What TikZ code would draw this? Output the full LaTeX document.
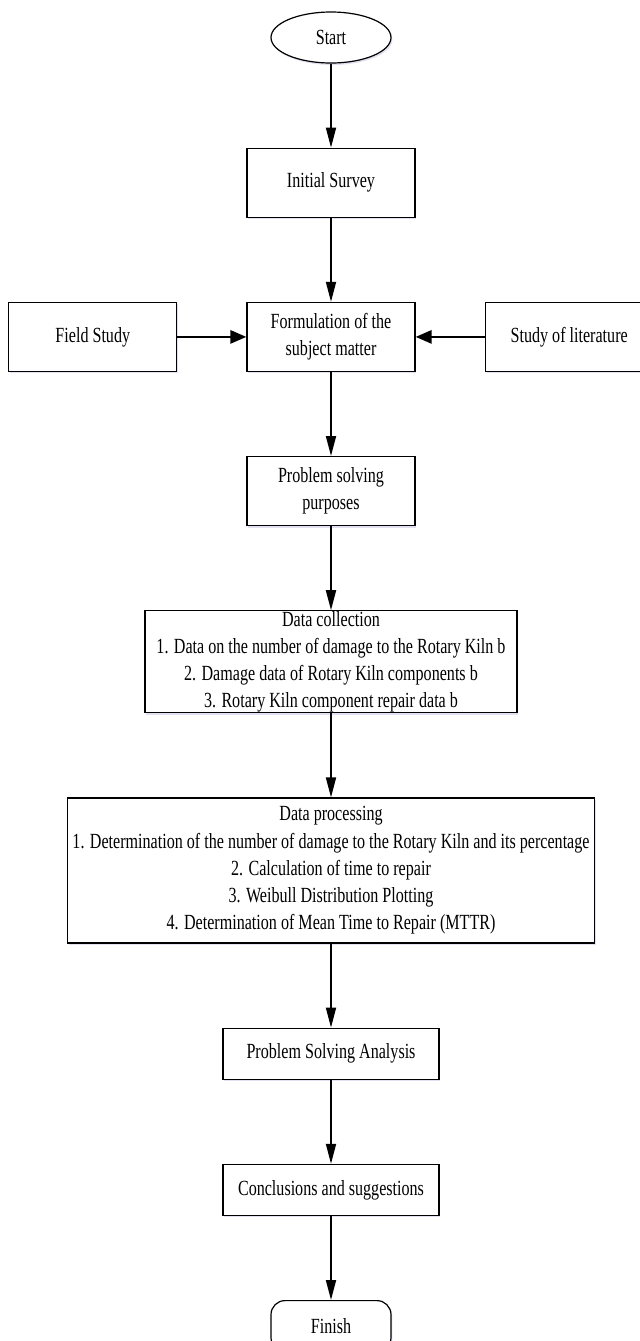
\documentclass[tikz,border=0pt]{standalone}
\usepackage{fontspec}
\setmainfont{Liberation Serif}[FakeStretch=0.745]
\usetikzlibrary{arrows.meta,positioning,shapes.geometric,shadows}

\begin{document}
\begin{tikzpicture}[
    node distance=42pt and 34.5pt,
    every node/.style={font=\fontsize{10.8pt}{13.6pt}\selectfont},
    box/.style={draw, line width=0.6pt, fill=white, align=center, inner sep=0pt, minimum width=84pt, minimum height=34.5pt,
        drop shadow={shadow xshift=0.7pt, shadow yshift=-1pt, fill=blue!35!gray!50, opacity=0.35}},
    terminal/.style={box, minimum width=60pt, minimum height=25.5pt},
    flow/.style={-{Triangle[length=10pt, width=5pt]}, line width=0.9pt},
    side/.style={-{Triangle[length=8pt, width=6.5pt]}, line width=1.4pt}
]
\useasboundingbox (0,0) rectangle (319.5pt,-670.5pt);
\node[terminal, ellipse] (start) at (165.5pt,-18.75pt) {Start};
\node[box, below=of start] (survey) {Initial Survey};
\node[box, below=of survey] (formul) {Formulation of the\\subject matter};
\node[box, left=of formul] (field) {Field Study};
\node[box, right=of formul] (lit) {Study of literature};
\node[box, below=of formul] (purpose) {Problem solving\\purposes};
\node[box, below=of purpose, minimum width=186pt, minimum height=51pt] (collect) {Data collection\\1. Data on the number of damage to the Rotary Kiln b\\2. Damage data of Rotary Kiln components b\\3. Rotary Kiln component repair data b};
\node[box, below=of collect, minimum width=263.5pt, minimum height=72.5pt] (process) {Data processing\\1. Determination of the number of damage to the Rotary Kiln and its percentage\\2. Calculation of time to repair\\3. Weibull Distribution Plotting\\4. Determination of Mean Time to Repair (MTTR)};
\node[box, below=of process, minimum width=108pt, minimum height=25.5pt] (analysis) {Problem Solving Analysis};
\node[box, below=of analysis, minimum width=108pt, minimum height=25.5pt] (concl) {Conclusions and suggestions};
\node[terminal, rounded corners=7pt, below=of concl] (finish) {Finish};
\draw[flow] (start) -- (survey);
\draw[flow] (survey) -- (formul);
\draw[side] (field) -- (formul);
\draw[side] (lit) -- (formul);
\draw[flow] (formul) -- (purpose);
\draw[flow] (purpose) -- (collect);
\draw[flow] (collect) -- (process);
\draw[flow] (process) -- (analysis);
\draw[flow] (analysis) -- (concl);
\draw[flow] (concl) -- (finish);
\end{tikzpicture}
\end{document}
